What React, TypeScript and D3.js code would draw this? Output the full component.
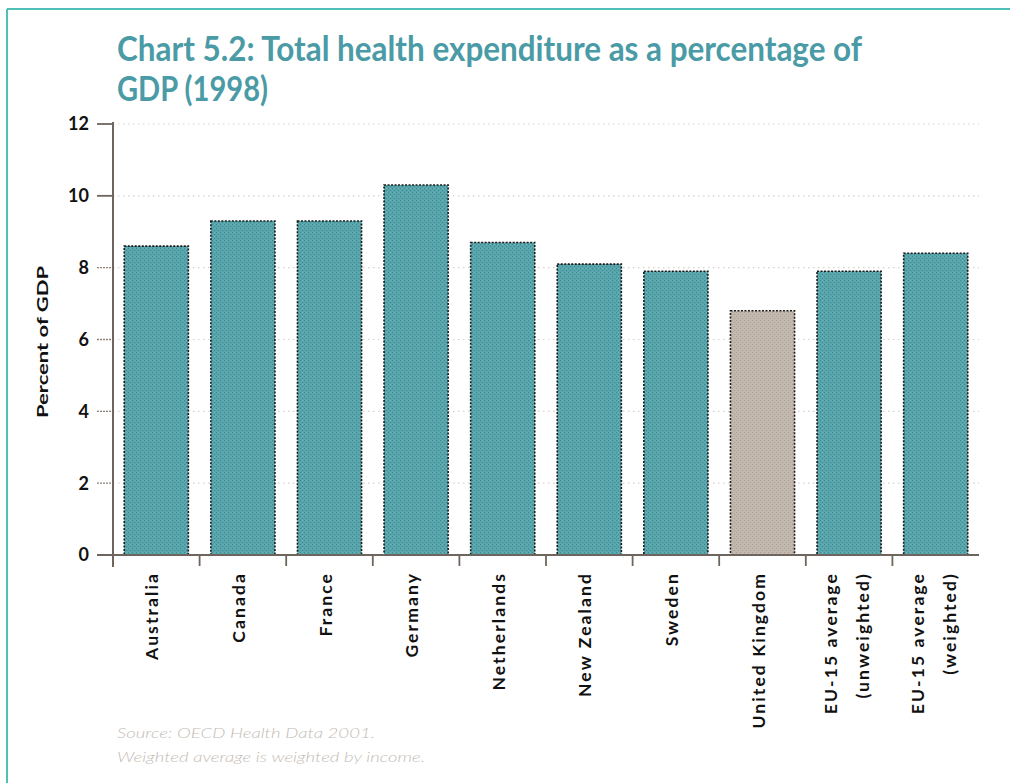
import React from "react";
import * as d3 from "d3";

const categories: string[][] = [
  ["Australia"],
  ["Canada"],
  ["France"],
  ["Germany"],
  ["Netherlands"],
  ["New Zealand"],
  ["Sweden"],
  ["United Kingdom"],
  ["EU-15 average", "(unweighted)"],
  ["EU-15 average", "(weighted)"],
];
const values: number[] = [8.6, 9.3, 9.3, 10.3, 8.7, 8.1, 7.9, 6.8, 7.9, 8.4];
const highlight: string = "United Kingdom";
const yTicks: number[] = [0, 2, 4, 6, 8, 10, 12];

const W = 1010;
const H = 783;
const left = 113;
const right = 979;
const top = 124;
const bottom = 555;

export default function App() {
  const keys = categories.map((c) => c.join(" "));
  const x = d3.scaleBand<string>().domain(keys).range([left, right]).paddingInner(0.26).paddingOuter(0.13);
  const y = d3.scaleLinear().domain([0, 12]).range([bottom, top]);
  const step = x.step();
  const boundaries = keys.map((k) => (x(k) as number) - (step - x.bandwidth()) / 2);

  return (
    <svg width={W} height={H} style={{ position: "absolute", left: 0, top: 0, background: "#fff" }}>
      <defs>
        <pattern id="tealPat" width="4" height="4" patternUnits="userSpaceOnUse">
          <rect width="4" height="4" fill="#58a6ac" />
          <rect x="0" y="0" width="1" height="1" fill="#3a8890" />
          <rect x="2" y="2" width="1" height="1" fill="#3a8890" />
          <rect x="2" y="0" width="1" height="1" fill="#6fb4b8" />
        </pattern>
        <pattern id="greyPat" width="4" height="4" patternUnits="userSpaceOnUse">
          <rect width="4" height="4" fill="#c3b8ae" />
          <rect x="0" y="0" width="1" height="1" fill="#aa9e94" />
          <rect x="2" y="2" width="1" height="1" fill="#aa9e94" />
        </pattern>
      </defs>

      {/* frame */}
      <line x1={7} y1={9} x2={W} y2={9} stroke="#4ec0b8" strokeWidth={2} />
      <line x1={7} y1={9} x2={7} y2={H} stroke="#4ec0b8" strokeWidth={2} />

      {/* title */}
      <text x={117} y={61} fill="#4a9ba6" fontFamily="Lato, 'Open Sans', sans-serif" fontWeight={700} fontSize={34}
        textLength={745} lengthAdjust="spacingAndGlyphs">
        Chart 5.2: Total health expenditure as a percentage of
      </text>
      <text x={117} y={101} fill="#4a9ba6" fontFamily="Lato, 'Open Sans', sans-serif" fontWeight={700} fontSize={34}
        textLength={151} lengthAdjust="spacingAndGlyphs">
        GDP (1998)
      </text>

      {/* gridlines */}
      {yTicks.filter((t) => t > 0).map((t) => (
        <line key={"g" + t} x1={left} x2={right} y1={y(t)} y2={y(t)} stroke="#d8d2cc" strokeWidth={1.2} strokeDasharray="1.5,3.5" />
      ))}

      {/* y ticks */}
      {yTicks.map((t) => (
        <g key={"t" + t}>
          <line x1={97} x2={left} y1={y(t)} y2={y(t)} stroke={t === 0 || t >= 10 ? "#6e655e" : "#8a817a"}
            strokeWidth={t === 0 || t >= 10 ? 1.8 : 1.3} strokeDasharray={t === 0 || t >= 10 ? undefined : "2,1"} />
          <text x={89} y={y(t)} dy="0.36em" textAnchor="end" fontFamily="Lato, sans-serif" fontWeight={700} fontSize={18} fill="#111">
            {t}
          </text>
        </g>
      ))}

      {/* y title */}
      <text transform={`translate(48,${342}) rotate(-90)`} textAnchor="middle" fontFamily="Lato, sans-serif" fontWeight={700} fontSize={16}
        fill="#111" textLength={152} lengthAdjust="spacingAndGlyphs">
        Percent of GDP
      </text>

      {/* bars */}
      {keys.map((k, i) => {
        const x0 = x(k) as number;
        const isUK = k === highlight;
        return (
          <rect key={"b" + k} x={x0} y={y(values[i])} width={x.bandwidth()} height={bottom - y(values[i])}
            fill={isUK ? "url(#greyPat)" : "url(#tealPat)"} stroke="#1a1a1a" strokeWidth={1.6} strokeDasharray="2,1.5" />
        );
      })}

      {/* axes */}
      <line x1={left} x2={left} y1={top - 2} y2={567} stroke="#6e655e" strokeWidth={2} />
      <line x1={97} x2={right} y1={bottom} y2={bottom} stroke="#6e655e" strokeWidth={2} />
      {boundaries.slice(1).map((bx, i) => (
        <line key={"xt" + i} x1={bx} x2={bx} y1={bottom} y2={566} stroke="#6e655e" strokeWidth={1.8} />
      ))}

      {/* x labels */}
      {categories.map((lines, i) => {
        const cx = (x(keys[i]) as number) + x.bandwidth() / 2;
        const n = lines.length;
        return lines.map((ln, j) => {
          const lx = n === 1 ? cx - 4 : cx - 18 + j * 32;
          return (
            <text key={"xl" + i + j} transform={`translate(${lx},572) rotate(-90)`} textAnchor="end" dy="0.35em"
              fontFamily="Lato, sans-serif" fontWeight={700} fontSize={17.5} fill="#111" letterSpacing={2.1}>
              {ln}
            </text>
          );
        });
      })}

      {/* footer */}
      <text x={117} y={738} fontFamily="Lato, sans-serif" fontStyle="italic" fontWeight={300} fontSize={14} fill="#c4bcb4"
        textLength={258} lengthAdjust="spacingAndGlyphs">
        Source: OECD Health Data 2001.
      </text>
      <text x={117} y={762} fontFamily="Lato, sans-serif" fontStyle="italic" fontWeight={300} fontSize={14} fill="#c4bcb4"
        textLength={308} lengthAdjust="spacingAndGlyphs">
        Weighted average is weighted by income.
      </text>
    </svg>
  );
}
